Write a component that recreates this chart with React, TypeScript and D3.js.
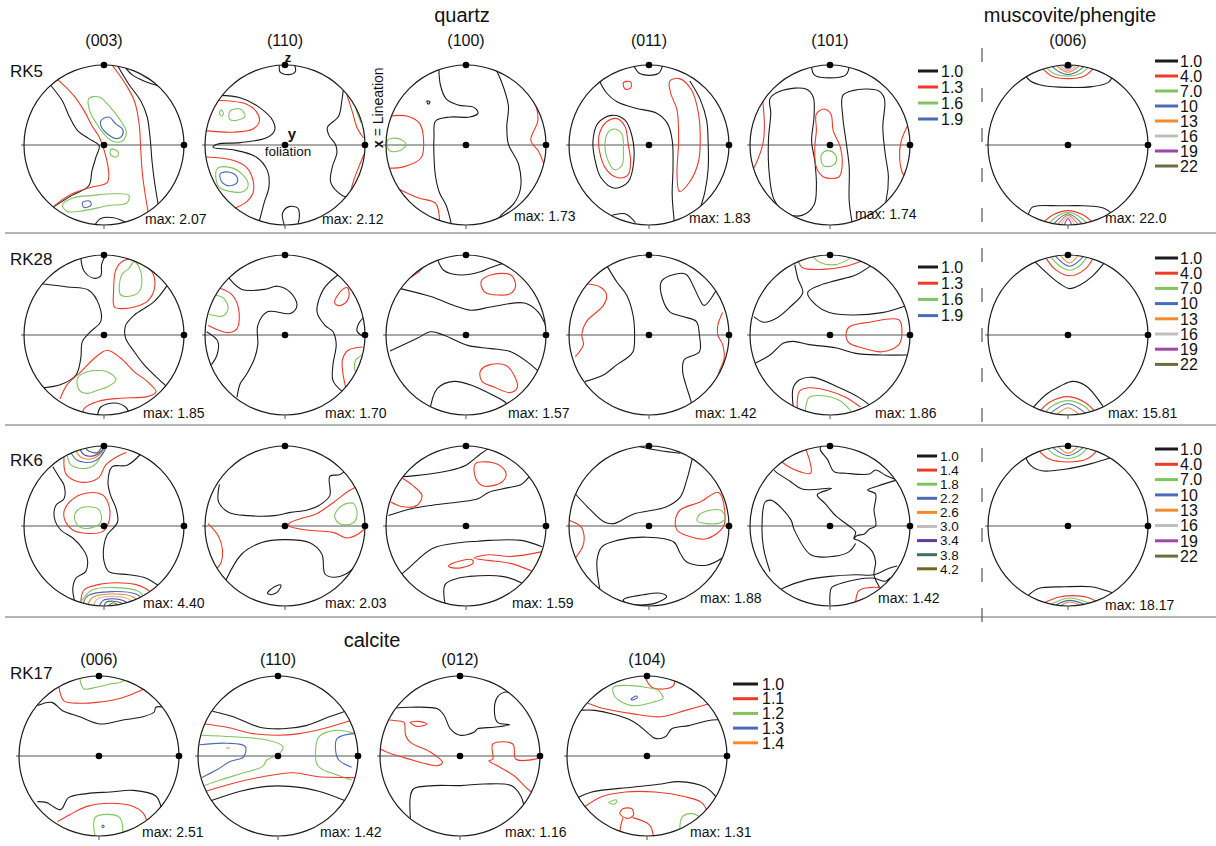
import React from 'react';
import * as d3 from 'd3';

type Pt = [number, number];
type Contour = [number, number, Pt[]]; // [level index, closed flag, points in unit-disk % coords]

// ---------- labels ----------
const rowLabels = ['RK5', 'RK28', 'RK6', 'RK17'];
const quartzPlanes = ['(003)', '(110)', '(100)', '(011)', '(101)'];
const micaPlane = '(006)';
const calcitePlanes = ['(006)', '(110)', '(012)', '(104)'];
const maxQuartzRK5 = ['2.07', '2.12', '1.73', '1.83', '1.74'];
const maxQuartzRK28 = ['1.85', '1.70', '1.57', '1.42', '1.86'];
const maxQuartzRK6 = ['4.40', '2.03', '1.59', '1.88', '1.42'];
const maxMica = ['22.0', '15.81', '18.17'];
const maxCalcite = ['2.51', '1.42', '1.16', '1.31'];
const quartzLevelsA = ['1.0', '1.3', '1.6', '1.9'];
const quartzLevelsB = ['1.0', '1.4', '1.8', '2.2', '2.6', '3.0', '3.4', '3.8', '4.2'];
const micaLevels = ['1.0', '4.0', '7.0', '10', '13', '16', '19', '22'];
const calciteLevels = ['1.0', '1.1', '1.2', '1.3', '1.4'];

// ---------- contours (unit disk, -100..100, y up) ----------
const rk5_003: Contour[] = [
  [0, 0, [[-67, 75], [-52, 55], [-44, 37], [-33, 18], [-19, 8], [-6, -1], [-10, -15], [-15, -32], [-19, -51], [-40, -63], [-64, -78]]],
  [0, 0, [[17, 99], [31, 76], [46, 55], [54, 35], [58, 5], [60, -20], [63, -45], [67, -70], [71, -92]]],
  [0, 0, [[25, 99], [35, 88], [50, 80], [68, 74]]],
  [1, 0, [[38, 94], [50, 86], [64, 79]]],
  [0, 0, [[-12, -101], [-4, -92], [12, -91], [30, -98]]],
  [1, 0, [[-58, 82], [-38, 62], [-25, 43], [-15, 24], [-6, 10], [-1, -3], [3, -17], [6, -36], [4, -47], [-17, -53], [-40, -61], [-62, -76]]],
  [1, 0, [[10, 100], [27, 76], [38, 55], [44, 26], [46, -7], [48, -36], [52, -65], [56, -88]]],
  [2, 1, [[-19, 58], [-6, 60], [8, 47], [19, 33], [28, 16], [23, 5], [10, 5], [-2, 16], [-10, 28], [-18, 43]]],
  [2, 1, [[9, -5], [18, -9], [16, -15], [8, -12]]],
  [2, 1, [[-52, -75], [-38, -66], [-13, -63], [12, -61], [31, -63], [29, -72], [4, -76], [-25, -82], [-46, -83]]],
  [3, 1, [[-4, 30], [6, 35], [15, 26], [23, 20], [23, 12], [15, 8], [4, 14], [-3, 22]]],
  [3, 1, [[-27, -72], [-18, -70], [-16, -75], [-25, -78]]],
];
const rk5_110: Contour[] = [
  [0, 0, [[-7, 100], [-6, 91], [5, 88], [13, 92], [12, 100]]],
  [0, 0, [[-82, 62], [-56, 59], [-32, 47], [-15, 30], [-13, 18], [-23, 9], [-56, 3], [-85, 1], [-90, -3], [-65, -6], [-36, -15], [-22, -32], [-20, -52], [-26, -72], [-32, -95]]],
  [0, 0, [[73, 70], [71, 55], [67, 36], [53, 22], [55, 12], [63, 1], [65, -9], [59, -28], [57, -46], [65, -58], [77, -65], [90, -60]]],
  [0, 0, [[-1, -100], [-3, -85], [5, -77], [16, -79], [18, -89], [16, -100]]],
  [1, 0, [[-92, 56], [-69, 55], [-48, 51], [-36, 42], [-32, 30], [-40, 20], [-65, 16], [-99, 18]]],
  [1, 0, [[-99, -15], [-65, -19], [-48, -28], [-40, -44], [-40, -60], [-48, -71], [-65, -80]]],
  [1, 0, [[77, 64], [84, 42], [90, 22], [98, 9]]],
  [1, 0, [[99, -11], [92, -28], [86, -44], [82, -58]]],
  [2, 0, [[88, 48], [91, 38], [95, 28]]],
  [2, 1, [[-69, 42], [-56, 45], [-50, 36], [-60, 31], [-69, 32]]],
  [2, 1, [[-80, 44], [-77, 40], [-79, 36], [-82, 40]]],
  [2, 1, [[-85, -30], [-69, -28], [-52, -38], [-46, -50], [-52, -58], [-69, -58], [-83, -52]]],
  [3, 1, [[-81, -36], [-69, -34], [-60, -40], [-60, -47], [-69, -51], [-79, -46]]],
];
const rk5_100: Contour[] = [
  [0, 0, [[-34, 98], [-32, 75], [-25, 58], [-10, 50], [10, 47], [15, 40], [5, 35], [-20, 35], [-38, 30], [-40, 10], [-40, -15], [-38, -40], [-33, -60], [-25, -75], [-18, -100]]],
  [0, 0, [[35, 99], [44, 80], [53, 49], [51, 23], [53, 1], [66, -25], [68, -55], [60, -73], [42, -90], [38, -100]]],
  [0, 1, [[-49, 55], [-45, 54], [-47, 51]]],
  [1, 0, [[40, 96], [66, 84], [83, 60], [90, 32], [81, 6], [90, -7], [98, -25]]],
  [1, 0, [[-98, 36], [-73, 36], [-58, 27], [-53, 6], [-56, -16], [-77, -27], [-97, -29]]],
  [1, 0, [[-88, -53], [-60, -66], [-38, -73], [-33, -96]]],
  [2, 1, [[-98, 6], [-84, 8], [-75, 1], [-82, -7], [-96, -7]]],
];
const rk5_011: Contour[] = [
  [0, 0, [[-19, 99], [-11, 89], [11, 89], [17, 99]]],
  [0, 0, [[-62, 80], [-53, 65], [-40, 54], [-17, 46], [9, 40], [23, 27], [29, 6], [30, -29], [29, -63], [32, -99]]],
  [0, 1, [[-68, -16], [-70, 6], [-64, 27], [-47, 37], [-30, 31], [-21, 10], [-19, -20], [-26, -46], [-43, -54], [-60, -41]]],
  [0, 0, [[51, 80], [64, 57], [72, 31], [74, 1], [74, -29], [70, -58], [64, -80], [60, -99]]],
  [0, 0, [[-50, -89], [-30, -86], [-17, -97]]],
  [1, 1, [[-62, -7], [-62, 14], [-53, 29], [-40, 33], [-30, 23], [-26, 1], [-23, -20], [-26, -37], [-38, -41], [-53, -31]]],
  [1, 1, [[26, 80], [38, 83], [53, 69], [61, 44], [64, 14], [62, -20], [51, -46], [38, -58], [35, -37], [37, 6], [35, 44], [27, 65]]],
  [1, 1, [[-32, 78], [-23, 79], [-23, 71], [-30, 70]]],
  [2, 1, [[-55, 1], [-51, 16], [-43, 20], [-34, 14], [-32, -7], [-34, -26], [-43, -31], [-51, -20]]],
];
const rk5_101: Contour[] = [
  [0, 0, [[-23, 98], [-19, 87], [19, 87], [24, 98]]],
  [0, 1, [[-75, 58], [-60, 68], [-30, 70], [-21, 60], [-20, 35], [-23, 5], [-19, -20], [-17, -53], [-20, -75], [-35, -88], [-55, -85], [-70, -68], [-76, -35], [-77, 5], [-74, 40]]],
  [0, 0, [[28, -99], [24, -70], [24, -28], [20, 5], [16, 35], [16, 62], [28, 68], [60, 68], [68, 58], [66, 22], [69, -11], [73, -40], [70, -70], [62, -92]]],
  [1, 1, [[-17, 39], [-8, 45], [1, 39], [4, 18], [13, -3], [15, -28], [11, -40], [-8, -40], [-17, -28], [-19, -3], [-17, 18]]],
  [1, 0, [[-84, 55], [-82, 22], [-84, 1], [-91, -20], [-96, -30]]],
  [1, 0, [[99, 28], [89, 5], [87, -15], [91, -36], [98, -45]]],
  [2, 1, [[-10, -11], [-3, -7], [6, -11], [8, -20], [3, -26], [-8, -26], [-11, -20]]],
];
const mica_rk5: Contour[] = [
  [0, 0, [[-54, 88], [-47, 80], [-30, 74], [0, 72], [30, 73], [50, 78], [56, 86]]],
  [1, 0, [[-33, 97], [-20, 86], [0, 83], [20, 86], [33, 97]]],
  [2, 0, [[-28, 98], [-17, 89], [0, 86], [15, 89], [26, 98]]],
  [3, 0, [[-21, 99], [-10, 91], [0, 88], [10, 91], [21, 99]]],
  [4, 0, [[-15, 100], [0, 91], [15, 100]]],
  [5, 0, [[-11, 100], [0, 93], [11, 100]]],
  [6, 0, [[-7, 101], [0, 95], [7, 101]]],
  [0, 0, [[-50, -88], [-45, -78], [-37, -76], [-12, -76], [20, -76], [45, -79], [55, -86]]],
  [1, 0, [[-31, -97], [-18, -87], [0, -82], [18, -87], [31, -97]]],
  [2, 0, [[-24, -98], [-12, -88], [0, -84], [12, -88], [24, -98]]],
  [3, 0, [[-18, -99], [0, -86], [18, -99]]],
  [4, 0, [[-13, -100], [0, -88], [13, -100]]],
  [5, 0, [[-9, -100], [0, -90], [9, -100]]],
  [6, 0, [[-5, -101], [0, -92], [5, -101]]],
];
const rk28_003: Contour[] = [
  [0, 0, [[-29, 97], [-25, 80], [-13, 71], [-4, 74], [-3, 88], [2, 100]]],
  [0, 0, [[-78, 64], [-46, 60], [-19, 56], [-6, 37], [-4, 17], [-17, 4], [-27, -8], [-29, -29], [-35, -50], [-54, -62], [-76, -66]]],
  [0, 0, [[79, 62], [63, 42], [38, 25], [27, 12], [27, -4], [38, -21], [50, -37], [67, -54], [80, -66]]],
  [0, 0, [[-8, -100], [-4, -90], [13, -85], [27, -90], [31, -97]]],
  [1, 1, [[13, 35], [12, 55], [15, 82], [25, 93], [37, 94], [60, 79], [63, 58], [54, 42], [38, 35], [21, 33]]],
  [1, 0, [[-55, -80], [-46, -62], [-29, -46], [-12, -29], [4, -19], [21, -29], [38, -46], [54, -58], [65, -71], [54, -77], [21, -79], [-8, -83], [-25, -92], [-27, -101]]],
  [2, 1, [[21, 50], [22, 75], [31, 83], [38, 92], [46, 79], [46, 58], [38, 50]]],
  [2, 1, [[-33, -54], [-21, -46], [4, -46], [15, -56], [4, -65], [-8, -69], [-21, -73], [-31, -69]]],
];
const rk28_110: Contour[] = [
  [0, 0, [[-70, 71], [-54, 57], [-26, 57], [-9, 61], [7, 53], [15, 37], [7, 27], [-22, 29], [-34, 12], [-34, -12], [-38, -29], [-48, -49], [-56, -61], [-60, -78]]],
  [0, 0, [[66, 75], [48, 57], [40, 29], [50, 12], [60, 4], [64, -12], [60, -37], [60, -57], [72, -71]]],
  [0, 0, [[100, 24], [92, 14], [90, 5], [98, -2]]],
  [0, 0, [[-98, 4], [-84, -8], [-85, -25], [-92, -37]]],
  [1, 0, [[-96, 12], [-71, 3], [-60, 8], [-58, 33], [-67, 51], [-83, 59], [-88, 60]]],
  [1, 1, [[62, 41], [72, 57], [78, 59], [80, 49], [74, 39], [66, 37]]],
  [1, 0, [[76, -66], [72, -45], [72, -30], [79, -19], [97, -15]]],
  [2, 0, [[-92, 50], [-78, 47], [-71, 34], [-77, 24], [-95, 26]]],
  [2, 0, [[96, -25], [88, -32], [87, -42], [91, -52]]],
];
const rk28_100: Contour[] = [
  [0, 0, [[-36, 96], [-28, 81], [-7, 75], [18, 79], [30, 84], [48, 90]]],
  [0, 0, [[-82, 58], [-44, 48], [-15, 37], [6, 31], [31, 35], [73, 40], [90, 29], [103, 4]]],
  [0, 0, [[-95, -20], [-61, -4], [-44, 4], [-28, 0], [2, -13], [31, -17], [56, -21], [81, -37], [95, -50]]],
  [0, 0, [[-46, -99], [-36, -67], [-15, -58], [10, -64], [35, -76], [50, -85], [56, -96]]],
  [1, 1, [[19, 67], [31, 75], [56, 75], [62, 62], [56, 52], [40, 50], [23, 54]]],
  [1, 1, [[18, -45], [30, -37], [50, -38], [60, -50], [64, -66], [55, -72], [35, -65], [20, -58]]],
  [1, 0, [[-70, 72], [-60, 78], [-52, 86]]],
];
const rk28_011: Contour[] = [
  [0, 0, [[-53, 87], [-40, 66], [-28, 50], [-20, 25], [-18, 0], [-20, -21], [-28, -29], [-40, -37], [-57, -50], [-80, -58]]],
  [0, 0, [[84, 56], [69, 37], [63, 45], [55, 62], [46, 76], [26, 74], [15, 66], [17, 45], [26, 29], [42, 23], [59, 17], [63, 0], [63, -21], [44, -31], [42, -45], [46, -62], [52, -81], [56, -97]]],
  [1, 0, [[-80, 64], [-61, 60], [-53, 50], [-57, 37], [-78, 17], [-84, 0], [-82, -12], [-92, -27]]],
  [1, 0, [[92, 28], [86, 12], [86, 0], [92, -12], [94, -29], [88, -45], [86, -52]]],
];
const rk28_101: Contour[] = [
  [0, 0, [[-44, 88], [-40, 70], [-34, 53], [-50, 35], [-67, 21], [-83, 16], [-95, 23]]],
  [0, 0, [[53, 88], [32, 75], [7, 68], [-13, 62], [-28, 53], [-17, 37], [-1, 28], [28, 25], [65, 28], [96, 37]]],
  [0, 0, [[-97, -37], [-75, -25], [-58, -10], [-46, -8], [-26, -12], [7, -16], [32, -23], [65, -25], [97, -25]]],
  [0, 0, [[-46, -90], [-46, -66], [-38, -56], [-21, -53], [12, -66], [36, -78], [50, -88]]],
  [1, 1, [[20, 0], [24, 10], [49, 16], [86, 19], [90, 4], [86, -12], [65, -21], [40, -16], [24, -10]]],
  [1, 0, [[-40, 93], [-34, 84], [-9, 82], [20, 86], [44, 94]]],
  [1, 0, [[-41, -92], [-38, -70], [-26, -66], [-1, -70], [20, -78], [38, -90]]],
  [2, 0, [[-22, 99], [-13, 91], [7, 88], [27, 97]]],
  [2, 0, [[-31, -96], [-26, -78], [-9, -76], [12, -82], [26, -95]]],
];
const mica_rk28: Contour[] = [
  [0, 0, [[-42, 92], [-27, 78], [-10, 64], [2, 58], [14, 62], [31, 74], [46, 91]]],
  [1, 0, [[-28, 97], [-16, 82], [2, 74], [21, 82], [32, 97]]],
  [2, 0, [[-22, 98], [-10, 86], [2, 81], [14, 86], [24, 98]]],
  [3, 0, [[-16, 99], [2, 86], [20, 99]]],
  [4, 0, [[-10, 100], [2, 90], [13, 100]]],
  [0, 0, [[-44, -91], [-27, -74], [-10, -64], [6, -58], [23, -64], [45, -91]]],
  [1, 0, [[-35, -95], [-23, -84], [0, -77], [21, -84], [33, -95]]],
  [2, 0, [[-29, -97], [-19, -88], [0, -82], [19, -88], [29, -97]]],
  [3, 0, [[-22, -98], [0, -86], [22, -98]]],
  [4, 0, [[-13, -99], [0, -91], [13, -99]]],
];
const rk6_003: Contour[] = [
  [0, 0, [[-64, 74], [-56, 61], [-50, 51], [-50, 34], [-60, 26], [-62, 10], [-54, -5], [-39, -15], [-27, -28], [-21, -40], [-23, -57], [-35, -65], [-39, -78], [-37, -93]]],
  [0, 0, [[46, 90], [29, 76], [10, 74], [5, 55], [8, 39], [15, 22], [17, 5], [4, -11], [0, -24], [0, -44], [6, -57], [31, -61], [52, -65], [70, -76]]],
  [1, 0, [[-50, 86], [-48, 66], [-37, 57], [-19, 55], [-6, 61], [2, 76], [15, 86], [28, 92]]],
  [1, 1, [[-50, 18], [-41, 32], [-23, 41], [-2, 39], [6, 26], [6, 5], [-2, -7], [-23, -9], [-39, -5], [-48, 5]]],
  [1, 0, [[-29, -95], [-25, -80], [-6, -73], [15, -71], [39, -73], [52, -78], [62, -86]]],
  [2, 1, [[-37, 10], [-33, 20], [-19, 24], [-6, 20], [-4, 5], [-15, -2], [-31, -1]]],
  [2, 0, [[-46, 88], [-41, 76], [-23, 72], [-10, 78], [-2, 92], [0, 99]]],
  [3, 0, [[-41, 91], [-33, 82], [-15, 80], [-4, 87], [3, 99]]],
  [4, 0, [[-35, 94], [-29, 86], [-15, 84], [-5, 90], [1, 99]]],
  [6, 0, [[-30, 96], [-25, 89], [-12, 88], [-3, 94], [0, 100]]],
  [7, 0, [[-24, 98], [-18, 93], [-8, 92], [-3, 99]]],
  [2, 0, [[-29, -95], [-15, -80], [15, -77], [44, -82], [50, -90]]],
  [3, 0, [[-26, -97], [-20, -87], [10, -82], [40, -85], [47, -90]]],
  [4, 0, [[-20, -98], [-14, -89], [10, -85], [35, -88], [42, -93]]],
  [5, 0, [[-13, -99], [-8, -91], [10, -88], [30, -91], [36, -95]]],
  [6, 0, [[-6, -100], [-1, -93], [10, -91], [24, -93], [30, -97]]],
  [7, 0, [[0, -100], [3, -95], [12, -94], [21, -96], [24, -98]]],
  [8, 0, [[6, -99], [12, -96], [18, -99]]],
];
const rk6_110: Contour[] = [
  [0, 0, [[-82, 52], [-83, 30], [-70, 17], [-46, 13], [-13, 13], [7, 17], [28, 20], [43, 26], [56, 38], [56, 62], [68, 64], [74, 68]]],
  [0, 0, [[-74, -68], [-54, -35], [-30, -21], [-1, -17], [31, -21], [46, -35], [50, -60], [60, -64], [76, -60], [86, -52]]],
  [0, 1, [[-22, -84], [-13, -76], [-5, -74], [-9, -82], [-17, -86]]],
  [1, 0, [[92, 50], [80, 44], [60, 29], [39, 15], [19, 9], [5, 3], [5, 0], [27, -5], [60, -8], [78, -15], [90, -11], [99, -4]]],
  [1, 0, [[-96, 3], [-83, -13], [-78, -31], [-80, -46], [-85, -53]]],
  [2, 1, [[62, 13], [72, 26], [86, 28], [90, 13], [84, 3], [68, 3]]],
];
const rk6_100: Contour[] = [
  [0, 0, [[-96, 61], [-63, 63], [-22, 69], [0, 76], [18, 90], [30, 98]]],
  [0, 0, [[-97, 13], [-71, 21], [-42, 26], [-9, 30], [15, 34], [28, 42], [53, 48], [69, 52], [80, 63]]],
  [0, 0, [[-86, -65], [-71, -52], [-42, -28], [-9, -21], [15, -19], [28, -18], [69, -18], [95, -26]]],
  [0, 0, [[-26, -99], [-26, -73], [-9, -65], [4, -63], [45, -63], [69, -71], [82, -84]]],
  [1, 0, [[-80, 60], [-67, 51], [-55, 38], [-61, 26], [-79, 24], [-94, 30]]],
  [1, 1, [[12, 78], [40, 77], [50, 66], [45, 55], [22, 50], [12, 60]]],
  [1, 1, [[-22, -50], [-9, -44], [7, -42], [9, -46], [-5, -52], [-18, -52]]],
  [1, 0, [[95, -32], [57, -38], [28, -36], [10, -40], [28, -43], [57, -47], [86, -58]]],
];
const rk6_011: Contour[] = [
  [0, 0, [[-92, 40], [-77, 24], [-56, 5], [-44, 3], [-19, 15], [6, 20], [22, 24], [39, 36], [47, 57], [54, 84]]],
  [0, 0, [[-61, -82], [-65, -43], [-59, -26], [-40, -18], [-2, -14], [31, -20], [39, -34], [47, -45], [72, -49], [93, -39]]],
  [0, 1, [[-32, -92], [-7, -86], [14, -84], [22, -88], [6, -97], [-27, -97]]],
  [0, 0, [[-12, 99], [14, 94], [39, 91]]],
  [1, 1, [[33, 7], [39, 20], [64, 30], [87, 42], [95, 15], [93, -1], [72, -16], [47, -12], [35, -5]]],
  [1, 0, [[-99, 7], [-85, -1], [-81, -14], [-83, -26], [-92, -40]]],
  [2, 1, [[60, 7], [64, 15], [89, 20], [95, 11], [91, 5], [72, 3]]],
];
const rk6_101: Contour[] = [
  [0, 0, [[-12, 99], [-12, 95], [-3, 83], [5, 68], [20, 66], [49, 65], [57, 70], [70, 63], [82, 58]]],
  [0, 0, [[-70, 70], [-67, 67], [-50, 56], [-34, 46], [2, 47], [-16, 39], [-6, 28], [8, 12], [24, 0], [32, -8], [30, -16], [36, -18], [53, -32], [57, -45], [55, -61], [61, -75], [64, -80]]],
  [0, 0, [[82, 57], [60, 50], [47, 45], [57, 40], [55, 20], [57, 0], [49, -4], [43, -10], [34, -12], [30, -16]]],
  [0, 0, [[-75, -57], [-83, -28], [-85, 0], [-81, 30], [-73, 32], [-49, 8], [-45, -4], [-24, -36], [4, -38], [24, -32], [32, -22]]],
  [0, 0, [[-62, -80], [-57, -77], [-28, -67], [0, -63], [32, -61], [55, -61], [73, -53], [84, -50]]],
  [0, 0, [[0, -99], [0, -85], [2, -77], [16, -71], [53, -65], [69, -69], [75, -65]]],
  [1, 0, [[-60, 80], [-50, 73], [-38, 68], [-24, 66], [-25, 80], [-30, 95]]],
  [1, 0, [[32, -95], [36, -81], [49, -77], [64, -77]]],
];
const mica_rk6: Contour[] = [
  [0, 0, [[-53, 86], [-47, 76], [-33, 69], [-4, 71], [29, 78], [55, 86]]],
  [1, 0, [[-36, 94], [-24, 84], [0, 80], [24, 84], [36, 94]]],
  [2, 0, [[-26, 97], [-15, 88], [0, 84], [14, 88], [24, 97]]],
  [3, 0, [[-19, 98], [0, 88], [19, 98]]],
  [4, 0, [[-12, 99], [0, 91], [12, 99]]],
  [0, 0, [[-50, -87], [-37, -78], [-4, -76], [29, -76], [45, -80], [57, -84]]],
  [1, 0, [[-30, -96], [-12, -89], [4, -87], [24, -89], [37, -95]]],
  [2, 0, [[-22, -98], [2, -90], [28, -97]]],
  [3, 0, [[-16, -99], [2, -93], [21, -98]]],
  [4, 0, [[-10, -100], [2, -95], [15, -99]]],
];
const rk17_006: Contour[] = [
  [0, 0, [[-77, 63], [-59, 67], [-46, 57], [-24, 49], [1, 40], [30, 45], [55, 49], [69, 55], [71, 61], [82, 61]]],
  [1, 0, [[-50, 86], [-44, 69], [-24, 66], [-3, 67], [22, 71], [43, 78], [57, 84]]],
  [2, 0, [[-24, 97], [-19, 84], [-3, 86], [14, 90], [26, 92], [34, 96]]],
  [0, 0, [[-77, -57], [-66, -58], [-48, -67], [-38, -52], [-15, -47], [14, -45], [43, -43], [71, -50], [78, -66]]],
  [1, 0, [[-52, -82], [-36, -73], [-15, -63], [14, -59], [43, -63], [55, -71], [60, -82]]],
  [2, 0, [[-5, -100], [-5, -77], [10, -73], [26, -77], [30, -96]]],
  [3, 1, [[4, -87], [6, -87], [6, -89], [4, -89]]],
];
const rk17_110: Contour[] = [
  [0, 0, [[-82, 56], [-56, 49], [-23, 36], [6, 34], [35, 38], [64, 49], [84, 56]]],
  [1, 0, [[-92, 40], [-64, 36], [-31, 28], [-2, 26], [27, 28], [56, 34], [90, 44]]],
  [2, 0, [[-96, 26], [-56, 24], [-14, 20], [6, 12], [2, 3], [-14, -5], [-19, -13], [-43, -21], [-72, -30], [-92, -37]]],
  [2, 0, [[96, 28], [72, 32], [51, 24], [47, 7], [49, -11], [56, -17], [72, -23], [92, -30]]],
  [3, 0, [[-98, 14], [-64, 16], [-41, 12], [-43, -1], [-60, -7], [-76, -17], [-95, -27]]],
  [3, 0, [[95, 28], [74, 22], [72, 7], [76, -5], [92, -14]]],
  [1, 0, [[-90, -44], [-56, -34], [-19, -26], [19, -21], [51, -26], [97, -27]]],
  [0, 0, [[-84, -56], [-47, -44], [-14, -38], [14, -38], [51, -44], [84, -56]]],
  [4, 0, [[-65, 10], [-60, 10]]],
  [4, 0, [[96, 3], [99, 3]]],
];
const rk17_012: Contour[] = [
  [0, 0, [[-83, 60], [-62, 61], [-28, 59], [-20, 51], [-12, 34], [0, 26], [18, 30], [22, 34], [43, 36], [62, 39], [47, 42], [43, 59], [47, 74], [57, 80], [66, 78]]],
  [1, 0, [[-100, 46], [-79, 44], [-70, 42], [-68, 26], [-62, 17], [-37, 5], [-22, -8], [-28, -12], [-70, -2], [-87, 3], [-100, 9]]],
  [1, 1, [[-62, 42], [-49, 43], [-41, 40], [-54, 37]]],
  [1, 0, [[98, -3], [70, -4], [66, 15], [41, 15], [41, -4], [36, -6], [50, -14], [68, -25], [80, -37], [89, -45]]],
  [0, 0, [[-62, -78], [-62, -50], [-58, -41], [-33, -37], [1, -37], [30, -35], [64, -37], [76, -50], [80, -62]]],
];
const rk17_104: Contour[] = [
  [1, 0, [[-3, 100], [6, 86], [23, 84], [33, 88], [35, 96]]],
  [2, 1, [[-42, 86], [-40, 74], [-19, 63], [10, 68], [20, 72], [14, 82], [-3, 86], [-19, 88]]],
  [3, 1, [[-20, 71], [-13, 75], [-12, 73], [-19, 70]]],
  [1, 0, [[-74, 66], [-53, 59], [-19, 53], [18, 49], [48, 57], [80, 66]]],
  [0, 0, [[-84, 57], [-65, 57], [-19, 44], [2, 28], [10, 22], [23, 24], [31, 34], [52, 38], [81, 45], [96, 45]]],
  [0, 0, [[-86, -52], [-69, -45], [-19, -39], [18, -35], [39, -32], [73, -39], [87, -52]]],
  [1, 0, [[-80, -65], [-57, -51], [-27, -45], [10, -45], [48, -51], [68, -58], [75, -68]]],
  [1, 1, [[-34, -72], [-30, -66], [-19, -66], [-17, -74], [-25, -78]]],
  [1, 0, [[-30, -77], [-33, -88], [-34, -100]]],
  [1, 0, [[-18, -77], [3, -86], [8, -100]]],
  [2, 1, [[-48, -58], [-38, -55], [-40, -60]]],
  [2, 0, [[41, -92], [44, -76], [56, -72], [66, -76]]],
];

// ---------- styling ----------
const paletteQ = ['#1b1b1b', '#ee3a2a', '#7fc45e', '#4a6bb5', '#f58a2a', '#bfbfbf', '#5c3f9c', '#3d6e62', '#6d6a22'];
const paletteM = ['#1b1b1b', '#ee3a2a', '#7fc45e', '#4a6bb5', '#f58a2a', '#bfbfbf', '#a045a8', '#6c6c3c'];
const FONT = "'Liberation Sans', Arial, Helvetica, sans-serif";

type PanelProps = {
  id: string; cx: number; cy: number; r: number;
  contours: Contour[]; palette: string[];
  maxText: string; maxX: number; maxY: number;
};

function Panel({ id, cx, cy, r, contours, palette, maxText, maxX, maxY }: PanelProps) {
  const x = d3.scaleLinear().domain([-100, 100]).range([cx - r, cx + r]);
  const y = d3.scaleLinear().domain([-100, 100]).range([cy + r, cy - r]);
  const open = d3.line<Pt>().x(d => x(d[0])).y(d => y(d[1])).curve(d3.curveCatmullRom.alpha(0.5));
  const closed = d3.line<Pt>().x(d => x(d[0])).y(d => y(d[1])).curve(d3.curveCatmullRomClosed.alpha(0.5));
  return (
    <g>
      <clipPath id={id}><circle cx={x(0)} cy={y(0)} r={r} /></clipPath>
      <line x1={x(-100) - 3} x2={x(100)} y1={y(0)} y2={y(0)} stroke="#8c8c8c" strokeWidth={1.3} />
      <g clipPath={`url(#${id})`}>
        {contours.map((c, i) => (
          <path key={i} d={(c[1] ? closed(c[2]) : open(c[2])) || ''} fill="none"
            stroke={palette[c[0]]} strokeWidth={1.1} strokeLinejoin="round" />
        ))}
      </g>
      <circle cx={x(0)} cy={y(0)} r={r} fill="none" stroke="#1b1b1b" strokeWidth={1.2} />
      <line x1={x(0)} x2={x(0)} y1={y(-100)} y2={y(-100) + 4} stroke="#555" strokeWidth={1} />
      <circle cx={x(0)} cy={y(0)} r={3.3} fill="#000" />
      <circle cx={x(0)} cy={y(100)} r={3.3} fill="#000" />
      <circle cx={x(100)} cy={y(0)} r={3.3} fill="#000" />
      <text x={maxX} y={maxY} fontSize={14} fontFamily={FONT} fill="#111">{`max: ${maxText}`}</text>
    </g>
  );
}

function Legend({ x1, x2, tx, ys, labels, palette, fontSize }:
  { x1: number; x2: number; tx: number; ys: number[]; labels: string[]; palette: string[]; fontSize: number }) {
  return (
    <g>
      {labels.map((l, i) => (
        <g key={l + i}>
          <line x1={x1} x2={x2} y1={ys[i]} y2={ys[i]} stroke={palette[i]} strokeWidth={3} />
          <text x={tx} y={ys[i] + fontSize * 0.36} fontSize={fontSize} fontFamily={FONT} fill="#111">{l}</text>
        </g>
      ))}
    </g>
  );
}

export default function App() {
  const R = 80;
  const colX = [104, 285, 466, 649, 830];
  const micaX = 1068;
  const rowY = [145, 335, 526];
  const calX = [99, 278, 460, 647];
  const calY = 756;
  const quartzData = [
    [rk5_003, rk5_110, rk5_100, rk5_011, rk5_101],
    [rk28_003, rk28_110, rk28_100, rk28_011, rk28_101],
    [rk6_003, rk6_110, rk6_100, rk6_011, rk6_101],
  ];
  const micaData = [mica_rk5, mica_rk28, mica_rk6];
  const calData = [rk17_006, rk17_110, rk17_012, rk17_104];
  const quartzMax = [maxQuartzRK5, maxQuartzRK28, maxQuartzRK6];
  const maxDx = [[41, 37, 48, 40, 25], [39, 40, 42, 46, 45], [39, 40, 46, 51, 48]];
  const maxYs = [[224, 224, 221, 223, 219], [418, 418, 418, 418, 418], [608, 608, 608, 603, 603]];
  const micaDx = [37, 40, 37];
  const micaY = [223, 418, 610];
  const calDx = [43, 42, 45, 43];
  const rowLabelY = [77, 265, 466, 679];

  const yStep = (y0: number, s: number, n: number) => Array.from({ length: n }, (_, i) => y0 + i * s);

  return (
    <svg width={1216} height={846} style={{ position: 'absolute', left: 0, top: 0, background: '#fff' }}>
      <rect x={0} y={0} width={1216} height={846} fill="#fff" />
      {/* titles */}
      <text x={462} y={22} fontSize={20} fontFamily={FONT} textAnchor="middle" fill="#111">quartz</text>
      <text x={1070} y={22} fontSize={20} fontFamily={FONT} textAnchor="middle" fill="#111">muscovite/phengite</text>
      <text x={372} y={647} fontSize={20} fontFamily={FONT} textAnchor="middle" fill="#111">calcite</text>
      {quartzPlanes.map((p, i) => (
        <text key={p} x={colX[i]} y={46} fontSize={16} fontFamily={FONT} textAnchor="middle" fill="#111">{p}</text>
      ))}
      <text x={micaX} y={46} fontSize={16} fontFamily={FONT} textAnchor="middle" fill="#111">{micaPlane}</text>
      {calcitePlanes.map((p, i) => (
        <text key={p + i} x={calX[i]} y={665} fontSize={16} fontFamily={FONT} textAnchor="middle" fill="#111">{p}</text>
      ))}
      {rowLabels.map((l, i) => (
        <text key={l} x={10} y={rowLabelY[i]} fontSize={17} fontFamily={FONT} fill="#111">{l}</text>
      ))}

      {/* separators */}
      {[233, 425, 617].map(y => (
        <line key={y} x1={5} x2={1216} y1={y} y2={y} stroke="#9c9c9c" strokeWidth={1.5} />
      ))}
      <line x1={982} x2={982} y1={48} y2={622} stroke="#555" strokeWidth={1.2} strokeDasharray="14 26" />

      {/* quartz panels */}
      {quartzData.map((row, ri) => row.map((cs, ci) => (
        <Panel key={`q${ri}${ci}`} id={`clip-q${ri}${ci}`} cx={colX[ci]} cy={rowY[ri]} r={R}
          contours={cs} palette={paletteQ} maxText={quartzMax[ri][ci]}
          maxX={colX[ci] + maxDx[ri][ci]} maxY={maxYs[ri][ci]} />
      )))}
      {/* mica panels */}
      {micaData.map((cs, ri) => (
        <Panel key={`m${ri}`} id={`clip-m${ri}`} cx={micaX} cy={rowY[ri]} r={R}
          contours={cs} palette={paletteM} maxText={maxMica[ri]}
          maxX={micaX + micaDx[ri]} maxY={micaY[ri]} />
      ))}
      {/* calcite panels */}
      {calData.map((cs, ci) => (
        <Panel key={`c${ci}`} id={`clip-c${ci}`} cx={calX[ci]} cy={calY} r={R}
          contours={cs} palette={paletteQ} maxText={maxCalcite[ci]}
          maxX={calX[ci] + calDx[ci]} maxY={837} />
      ))}

      {/* annotations on RK5 (110) */}
      <text x={288} y={62} fontSize={13} fontWeight="bold" fontFamily={FONT} textAnchor="middle" fill="#111">z</text>
      <text x={292} y={139} fontSize={15} fontWeight="bold" fontFamily={FONT} textAnchor="middle" fill="#111">y</text>
      <text x={288} y={156} fontSize={13.5} fontFamily={FONT} textAnchor="middle" fill="#111">foliation</text>
      <text transform="translate(383,148) rotate(-90)" fontSize={14} fontFamily={FONT} fill="#111">
        <tspan fontWeight="bold">x</tspan> = Lineation
      </text>

      {/* legends */}
      <Legend x1={918} x2={938} tx={941} ys={yStep(71, 16, 4)} labels={quartzLevelsA} palette={paletteQ} fontSize={16} />
      <Legend x1={918} x2={938} tx={941} ys={yStep(267, 16.2, 4)} labels={quartzLevelsA} palette={paletteQ} fontSize={16} />
      <Legend x1={917} x2={937} tx={940} ys={yStep(456, 14.1, 9)} labels={quartzLevelsB} palette={paletteQ} fontSize={13.5} />
      <Legend x1={1155} x2={1178} tx={1180} ys={yStep(61, 15, 8)} labels={micaLevels} palette={paletteM} fontSize={16} />
      <Legend x1={1155} x2={1178} tx={1180} ys={yStep(258, 15.2, 8)} labels={micaLevels} palette={paletteM} fontSize={16} />
      <Legend x1={1155} x2={1178} tx={1180} ys={yStep(449, 15.3, 8)} labels={micaLevels} palette={paletteM} fontSize={16} />
      <Legend x1={733} x2={758} tx={762} ys={yStep(684, 14.7, 5)} labels={calciteLevels} palette={paletteQ} fontSize={16} />
    </svg>
  );
}
